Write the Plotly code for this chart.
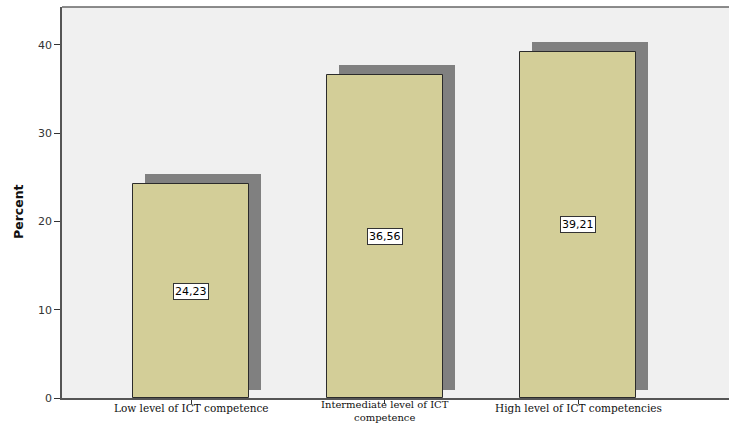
import plotly.graph_objects as go

categories = ["Low level of ICT competence", "Intermediate level of ICT<br>competence", "High level of ICT competencies"]
values = [24.23, 36.56, 39.21]
value_labels = ["24,23", "36,56", "39,21"]
y_ticks = [0, 10, 20, 30, 40]
y_title = "Percent"

xpos = list(range(len(categories)))
bar_w = 0.6
sh_dx = 0.062
sh_base = 0.9
sh_top = 1.13

fig = go.Figure()
# shadow
fig.add_trace(go.Bar(
    x=[p + sh_dx for p in xpos],
    y=[v + sh_top - sh_base for v in values],
    base=[sh_base] * len(values),
    width=bar_w,
    marker=dict(color="#808080", line=dict(width=0)),
    hoverinfo="skip", showlegend=False,
))
# bars
fig.add_trace(go.Bar(
    x=xpos, y=values, width=bar_w,
    marker=dict(color="#D3CE98", line=dict(color="#2b2b2b", width=1)),
    showlegend=False,
))

for p, v, t in zip(xpos, values, value_labels):
    fig.add_annotation(
        x=p, y=v / 2, text=t, showarrow=False,
        font=dict(family="DejaVu Sans", size=11, color="#000"),
        bgcolor="white", bordercolor="#333", borderwidth=1, borderpad=1,
    )

# category labels
for p, c in zip(xpos, categories):
    two = "<br>" in c
    fig.add_annotation(
        x=p, y=0, xref="x", yref="y", text=c, showarrow=False,
        yanchor="top", yshift=-1 if two else -4, borderpad=0, borderwidth=0,
        font=dict(family="DejaVu Serif", size=10 if two else 10.5, color="#111"),
    )

# y-axis title
fig.add_annotation(
    x=0, y=0.5, xref="paper", yref="paper", xshift=-53, yshift=-9,
    text="<b>" + y_title + "</b>", textangle=-90, showarrow=False,
    font=dict(family="DejaVu Sans", size=12.5, color="#111"),
)

fig.update_layout(
    width=729, height=425,
    margin=dict(l=62, r=0, t=7, b=27),
    paper_bgcolor="white", plot_bgcolor="#F0F0F0",
    barmode="overlay", bargap=0,
    xaxis=dict(
        tickmode="array", tickvals=xpos, showticklabels=False,
        range=[-0.667, 2.78], automargin=False,
        showline=True, linecolor="#555", linewidth=1.5,
        ticks="outside", ticklen=4, tickcolor="#333",
        showgrid=False, zeroline=False,
    ),
    yaxis=dict(
        range=[0, 44.3], automargin=False,
        tickmode="array", tickvals=y_ticks,
        showline=True, linecolor="#555", linewidth=1.5,
        ticks="outside", ticklen=6, tickcolor="#333",
        tickfont=dict(family="DejaVu Sans", size=11, color="#333"),
        showgrid=False, zeroline=False,
    ),
    shapes=[dict(type="line", xref="paper", yref="paper", x0=0, x1=1, y0=1, y1=1,
                 line=dict(color="#666", width=1.5))],
)

fig.write_html("out.html")
